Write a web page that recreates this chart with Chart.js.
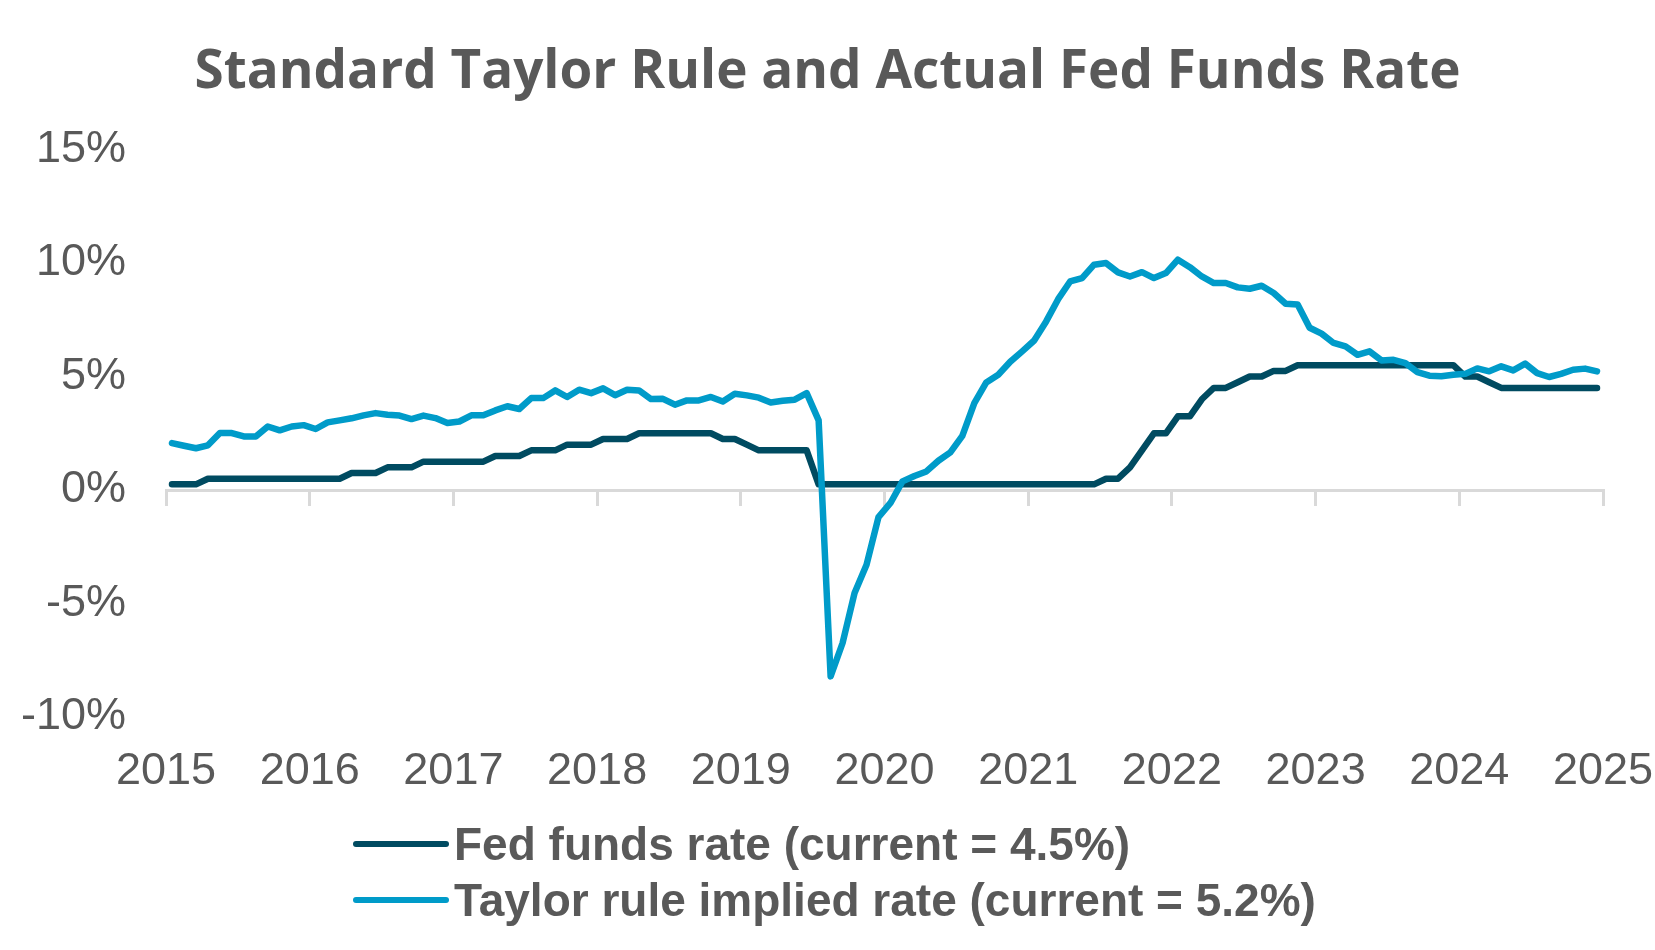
<!DOCTYPE html>
<html>
<head>
<meta charset="utf-8">
<title>Standard Taylor Rule and Actual Fed Funds Rate</title>
<script src="https://cdn.jsdelivr.net/npm/chart.js@4.4.1/dist/chart.umd.min.js"></script>
<style>
  body { margin: 0; background: #fff; }
  #wrap { position: relative; width: 1655px; height: 950px; }
  #legend {
    position: absolute; left: 353px; top: 816px;
    font-family: 'Liberation Sans', Arial, sans-serif;
    font-weight: bold; font-size: 46px; color: #595959;
  }
  .item { display: flex; align-items: center; height: 56px; white-space: nowrap; }
  .swatch { width: 96px; height: 6px; border-radius: 3px; margin-right: 5px; }
</style>
</head>
<body>
<div id="wrap">
  <canvas id="taylorChart"></canvas>
  <div id="legend"></div>
</div>
<script>
// x axis tick labels, one every 12 monthly points
const yearLabels = ["2015", "2016", "2017", "2018", "2019", "2020",
                    "2021", "2022", "2023", "2024", "2025"];

// monthly series, 120 points each
const fedFunds = [
  0.25, 0.25, 0.25, 0.5, 0.5, 0.5, 0.5, 0.5, 0.5, 0.5,
  0.5, 0.5, 0.5, 0.5, 0.5, 0.75, 0.75, 0.75, 1.0, 1.0,
  1.0, 1.25, 1.25, 1.25, 1.25, 1.25, 1.25, 1.5, 1.5, 1.5,
  1.75, 1.75, 1.75, 2.0, 2.0, 2.0, 2.25, 2.25, 2.25, 2.5,
  2.5, 2.5, 2.5, 2.5, 2.5, 2.5, 2.25, 2.25, 2.0, 1.75,
  1.75, 1.75, 1.75, 1.75, 0.25, 0.25, 0.25, 0.25, 0.25, 0.25,
  0.25, 0.25, 0.25, 0.25, 0.25, 0.25, 0.25, 0.25, 0.25, 0.25,
  0.25, 0.25, 0.25, 0.25, 0.25, 0.25, 0.25, 0.25, 0.5, 0.5,
  1.0, 1.75, 2.5, 2.5, 3.25, 3.25, 4.0, 4.5, 4.5, 4.75,
  5.0, 5.0, 5.25, 5.25, 5.5, 5.5, 5.5, 5.5, 5.5, 5.5,
  5.5, 5.5, 5.5, 5.5, 5.5, 5.5, 5.5, 5.5, 5.0, 5.0,
  4.75, 4.5, 4.5, 4.5, 4.5, 4.5, 4.5, 4.5, 4.5, 4.5
];

const taylorRule = [
  2.07, 1.95, 1.84, 1.97, 2.51, 2.51, 2.36, 2.36, 2.80, 2.63,
  2.80, 2.86, 2.69, 2.98, 3.07, 3.16, 3.29, 3.39, 3.32, 3.28,
  3.13, 3.28, 3.17, 2.95, 3.02, 3.29, 3.29, 3.51, 3.69, 3.57,
  4.05, 4.05, 4.39, 4.10, 4.42, 4.27, 4.48, 4.18, 4.42, 4.39,
  4.01, 4.02, 3.76, 3.95, 3.95, 4.10, 3.90, 4.24, 4.17, 4.07,
  3.86, 3.93, 3.98, 4.27, 3.07, -8.21, -6.74, -4.54, -3.29, -1.19,
  -0.57, 0.38, 0.62, 0.82, 1.29, 1.66, 2.39, 3.83, 4.74, 5.08,
  5.65, 6.11, 6.59, 7.43, 8.41, 9.19, 9.34, 9.93, 10.0, 9.59,
  9.41, 9.60, 9.34, 9.56, 10.15, 9.82, 9.41, 9.12, 9.12, 8.93,
  8.87, 9.00, 8.68, 8.21, 8.17, 7.15, 6.89, 6.48, 6.33, 5.96,
  6.11, 5.71, 5.74, 5.59, 5.20, 5.04, 5.01, 5.08, 5.12, 5.36,
  5.23, 5.45, 5.27, 5.57, 5.15, 4.98, 5.12, 5.30, 5.35, 5.23
];

const seriesNames = [
  "Fed funds rate (current = 4.5%)",
  "Taylor rule implied rate (current = 5.2%)"
];

const textGray = "#595959";
const tickFont = "'Liberation Sans', Arial, sans-serif";

// each month sits in the middle of its slot, 12 slots per year
function toPoints(values) {
  return values.map((v, i) => ({ x: i + 0.5, y: v }));
}

const ctx = document.getElementById("taylorChart").getContext("2d");

const chart = new Chart(ctx, {
  type: "line",
  data: {
    datasets: [
      {
        label: seriesNames[0],
        data: toPoints(fedFunds),
        borderColor: "#004b61",
        backgroundColor: "#004b61",
        borderWidth: 6.5,
        order: 1
      },
      {
        label: seriesNames[1],
        data: toPoints(taylorRule),
        borderColor: "#009bc9",
        backgroundColor: "#009bc9",
        borderWidth: 6.5,
        order: 0
      }
    ]
  },
  options: {
    responsive: true,
    maintainAspectRatio: false,
    animation: false,
    layout: { padding: { top: 0, left: 0, right: 0, bottom: 131 } },
    elements: {
      point: { radius: 0 },
      line: { tension: 0, borderJoinStyle: "round", borderCapStyle: "round" }
    },
    scales: {
      x: {
        type: "linear",
        min: 0,
        max: 120,
        position: "bottom",
        grid: { display: false },
        border: { display: false },
        ticks: {
          stepSize: 12,
          autoSkip: false,
          maxRotation: 0,
          padding: 20,
          color: textGray,
          font: { family: tickFont, size: 45 },
          callback: (v) => yearLabels[v / 12]
        },
        // fixed right margin; the 2025 label hangs past the plot edge
        afterFit: (scale) => { scale.paddingLeft = 0; scale.paddingRight = 52; }
      },
      xZero: {
        axis: "x",
        type: "linear",
        min: 0,
        max: 120,
        position: { y: 0 },
        grid: { drawOnChartArea: false, drawTicks: true, tickLength: 14, color: "#d9d9d9", lineWidth: 3 },
        border: { display: true, color: "#d9d9d9", width: 3 },
        ticks: { stepSize: 12, display: false }
      },
      y: {
        min: -10,
        max: 15,
        grid: { display: false },
        border: { display: false },
        ticks: {
          stepSize: 5,
          padding: 32,
          color: textGray,
          font: { family: tickFont, size: 45 },
          callback: (v) => v + "%"
        },
        afterFit: (scale) => { scale.width = 166; }
      }
    },
    plugins: {
      legend: { display: false },
      tooltip: { enabled: false },
      title: {
        display: true,
        text: "Standard Taylor Rule and Actual Fed Funds Rate",
        color: textGray,
        font: { family: "'Open Sans'", weight: "bold", size: 53 },
        padding: { top: 41, bottom: 45 }
      }
    }
  }
});

// legend list below the chart, in series order
const legend = document.getElementById("legend");
chart.data.datasets.forEach((ds) => {
  const row = document.createElement("div");
  row.className = "item";
  const swatch = document.createElement("span");
  swatch.className = "swatch";
  swatch.style.background = ds.borderColor;
  const label = document.createElement("span");
  label.textContent = ds.label;
  row.appendChild(swatch);
  row.appendChild(label);
  legend.appendChild(row);
});
</script>
</body>
</html>
